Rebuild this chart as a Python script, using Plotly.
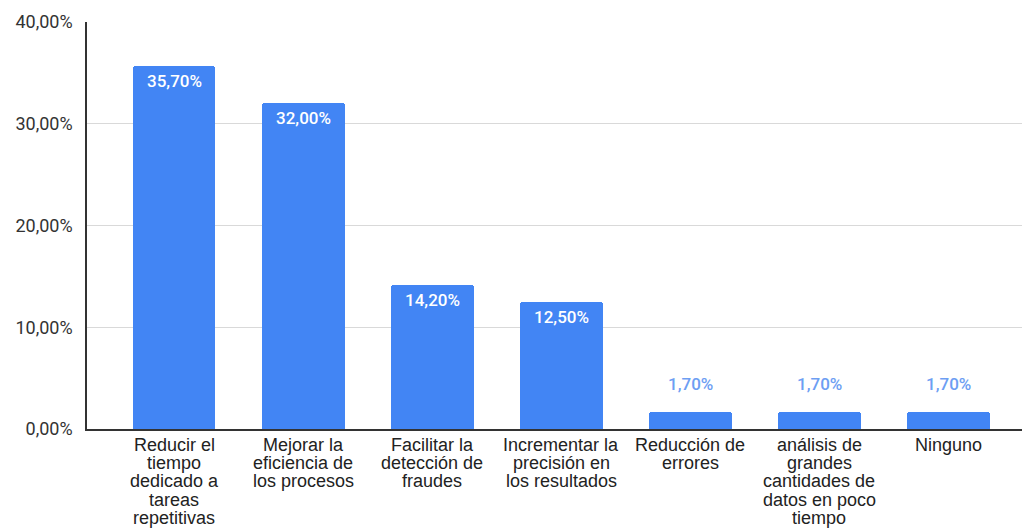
import plotly.graph_objects as go

# ---- data ----
categories = [
    "Reducir el tiempo dedicado a tareas repetitivas",
    "Mejorar la eficiencia de los procesos",
    "Facilitar la detección de fraudes",
    "Incrementar la precisión en los resultados",
    "Reducción de errores",
    "análisis de grandes cantidades de datos en poco tiempo",
    "Ninguno",
]
category_lines = [
    ["Reducir el", "tiempo", "dedicado a", "tareas", "repetitivas"],
    ["Mejorar la", "eficiencia de", "los procesos"],
    ["Facilitar la", "detección de", "fraudes"],
    ["Incrementar la", "precisión en", "los resultados"],
    ["Reducción de", "errores"],
    ["análisis de", "grandes", "cantidades de", "datos en poco", "tiempo"],
    ["Ninguno"],
]
values = [35.7, 32.0, 14.2, 12.5, 1.7, 1.7, 1.7]
value_labels = ["35,70%", "32,00%", "14,20%", "12,50%", "1,70%", "1,70%", "1,70%"]
ytick_vals = [0, 10, 20, 30, 40]
ytick_labels = ["0,00%", "10,00%", "20,00%", "30,00%", "40,00%"]

BAR = "#4285F4"

fig = go.Figure(
    go.Bar(
        x=categories,
        y=values,
        marker=dict(color=BAR, cornerradius=3, line=dict(width=0)),
        width=0.641,
        hoverinfo="skip",
    )
)

annotations = []
for cat, v, lab in zip(categories, values, value_labels):
    inside = v > 5
    annotations.append(dict(
        x=cat, y=v, xref="x", yref="y", text=lab, showarrow=False,
        yanchor="middle", yshift=-15 if inside else 28,
        font=dict(family="Roboto", size=17, weight=500,
                  color="#ffffff" if inside else "#6d9ef3"),
    ))
for cat, lines in zip(categories, category_lines):
    for j, line in enumerate(lines):
        annotations.append(dict(
            x=cat, y=0, xref="x", yref="paper", text=line, showarrow=False,
            yanchor="middle", yshift=-16 - 18.2 * j,
            font=dict(family="Liberation Sans, Arial", size=18, color="#222222"),
        ))

fig.update_layout(
    width=1023, height=531,
    margin=dict(l=87, r=1, t=22, b=102),
    paper_bgcolor="white", plot_bgcolor="white",
    showlegend=False,
    annotations=annotations,
    bargap=0,
    xaxis=dict(
        range=[-0.675, 6.57], showticklabels=False, showgrid=False,
        showline=True, linecolor="#333333", linewidth=1.5, ticks="",
        zeroline=False, fixedrange=True,
    ),
    yaxis=dict(
        range=[0, 40], tickvals=ytick_vals, ticktext=ytick_labels,
        showgrid=True, gridcolor="#d9d9d9", gridwidth=1,
        showline=True, linecolor="#333333", linewidth=1.5,
        zeroline=False, ticks="", ticklabelstandoff=9,
        tickfont=dict(family="Roboto", size=18, color="#333333"),
        fixedrange=True,
    ),
)

fig.write_html(
    "out.html",
    config={"displayModeBar": False},
    post_script="document.body.style.margin='0';",
)
